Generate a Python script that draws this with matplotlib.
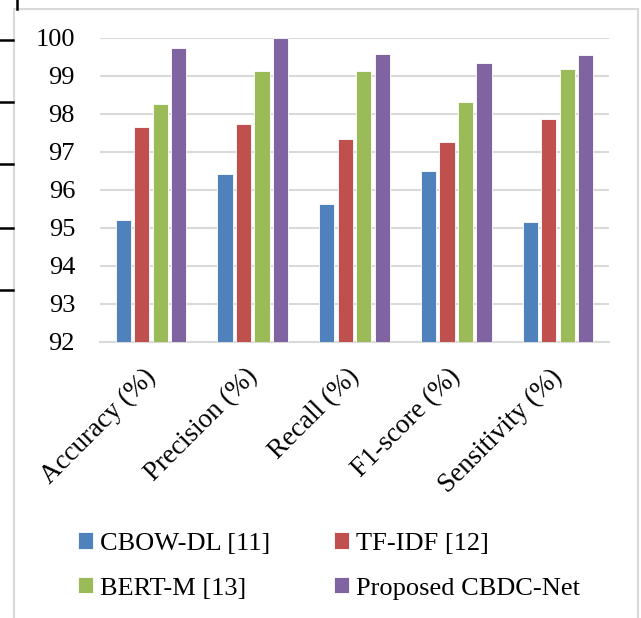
import matplotlib
matplotlib.use("Agg")
import matplotlib.pyplot as plt
import matplotlib.transforms as mtransforms
from matplotlib.lines import Line2D
from matplotlib.patches import Rectangle
import numpy as np

categories = ["Accuracy (%)", "Precision (%)", "Recall (%)", "F1-score (%)", "Sensitivity (%)"]
series_names = ["CBOW-DL [11]", "TF-IDF [12]", "BERT-M [13]", "Proposed CBDC-Net"]
cbow_dl = [95.21, 96.43, 95.64, 96.49, 95.16]
tf_idf = [97.66, 97.73, 97.34, 97.26, 97.87]
bert_m = [98.26, 99.14, 99.12, 98.32, 99.18]
cbdc_net = [99.75, 99.99, 99.57, 99.35, 99.56]
y_ticks = [92, 93, 94, 95, 96, 97, 98, 99, 100]

colors = ["#4F81BD", "#C0504D", "#9BBB59", "#8064A2"]
plt.rcParams["font.family"] = ["Liberation Serif", "DejaVu Serif"]

W, H = 641, 618
fig = plt.figure(figsize=(W / 100, H / 100), dpi=100)

# outer chart frame
fig.patches.append(Rectangle((14 / W, -0.1), (638 - 14) / W, 1.1 - 9 / H,
                             transform=fig.transFigure, fill=False,
                             edgecolor="#d9d9d9", linewidth=1.5))
# fragments of the surrounding axis on the far left
fig.lines.append(Line2D([17 / W, 17 / W], [1.0, 1 - 9 / H], transform=fig.transFigure,
                        color="black", linewidth=1.8))
for yp in [40, 102, 164, 228, 290]:
    fig.lines.append(Line2D([0, 13 / W], [1 - yp / H, 1 - yp / H], transform=fig.transFigure,
                            color="black", linewidth=1.8))

ax = fig.add_axes([100 / W, 1 - 342 / H, (609 - 100) / W, (342 - 38) / H])
x = np.arange(len(categories))
slot = 0.182
all_series = [cbow_dl, tf_idf, bert_m, cbdc_net]
for i, (vals, name, c) in enumerate(zip(all_series, series_names, colors)):
    ax.bar(x + (i - 1.5) * slot, np.array(vals) - 92, bottom=92, width=slot * 0.82,
           color=c, edgecolor="white", linewidth=0.6, label=name, zorder=3)

ax.set_xlim(-0.5, len(categories) - 0.5)
ax.set_ylim(92, 100)
ax.set_yticks(y_ticks)
ax.set_yticklabels([str(t) for t in y_ticks], fontsize=19)
ax.yaxis.grid(True, color="#d9d9d9", linewidth=1.5, zorder=0)
ax.tick_params(axis="both", length=0)
ax.tick_params(axis="y", pad=18)
for s in ax.spines.values():
    s.set_visible(False)
ax.spines["bottom"].set_visible(True)
ax.spines["bottom"].set_color("#d9d9d9")
ax.spines["bottom"].set_linewidth(1.5)

ax.set_xticks(x)
ax.set_xticklabels(categories, fontsize=19.5, rotation=45, ha="right", va="top",
                   rotation_mode="anchor")
ax.tick_params(axis="x", pad=16)
shift = mtransforms.ScaledTranslation(-8 / 100, 0, fig.dpi_scale_trans)
for lbl in ax.get_xticklabels():
    lbl.set_transform(lbl.get_transform() + shift)

# legend filled row by row
handles, labels = ax.get_legend_handles_labels()
order = [0, 2, 1, 3]
fig.legend([handles[k] for k in order], [labels[k] for k in order], ncol=2,
           loc="center left", bbox_to_anchor=(78 / W, 1 - 566 / H), frameon=False,
           borderpad=0, borderaxespad=0, fontsize=19,
           handlelength=0.57, handleheight=0.57, handletextpad=0.27,
           columnspacing=2.4, labelspacing=0.85)

fig.savefig("out.png", dpi=100)
